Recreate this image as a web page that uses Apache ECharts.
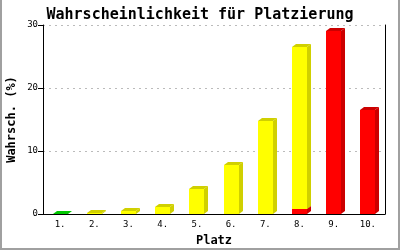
<!DOCTYPE html>
<html>
<head>
<meta charset="utf-8">
<script src="https://cdn.jsdelivr.net/npm/echarts@6/dist/echarts.min.js"></script>
<style>html,body{margin:0;padding:0;background:#fff}#c{width:400px;height:250px}</style>
</head>
<body>
<div id="c"></div>
<script>
var categories = ['1.', '2.', '3.', '4.', '5.', '6.', '7.', '8.', '9.', '10.'];
var greenValues  = [0.05, 0, 0, 0, 0, 0, 0, 0, 0, 0];
var redValues    = [0, 0, 0, 0, 0, 0, 0, 0.85, 0, 0];
var yellowValues = [0, 0.2, 0.5, 1.1, 4.0, 7.8, 14.8, 25.65, 0, 0];
var redTopValues = [0, 0, 0, 0, 0, 0, 0, 0, 29.1, 16.5];
var yTicks = [0, 10, 20, 30];

var FONT = '"DejaVu Sans Mono", monospace';
var seriesDefs = [
  {name: 'green', values: greenValues, front: '#00ee00', dark: '#00c800'},
  {name: 'red', values: redValues, front: '#ff0000', dark: '#cc0000'},
  {name: 'yellow', values: yellowValues, front: '#ffff00', dark: '#d0d000'},
  {name: 'red2', values: redTopValues, front: '#ff0000', dark: '#cc0000'}
];
var bases = categories.map(function(){return 0;});
var series = seriesDefs.map(function(def){
  var data = def.values.map(function(v, i){
    var b = bases[i];
    bases[i] += v;
    return [i, b, b + v, v];
  });
  return {
    type: 'custom',
    name: def.name,
    data: data,
    encode: {x: 0, y: 2},
    renderItem: function(params, api){
      var v = api.value(3);
      if (!v) return;
      var cat = api.value(0);
      var pb = api.coord([cat, api.value(1)]);
      var pt = api.coord([cat, api.value(2)]);
      var bw = Math.round(api.size([1, 0])[0] * 0.44);
      var l = Math.round(pb[0] - bw / 2);
      var r = l + bw;
      var yb = Math.round(pb[1]);
      var yt = Math.round(pt[1]);
      var dx = 4, dy = 3;
      return {
        type: 'group',
        children: [
          {type: 'polygon', shape: {points: [[r, yt], [r + dx, yt - dy], [r + dx, yb - dy], [r, yb]]}, style: {fill: def.dark}},
          {type: 'polygon', shape: {points: [[l, yt], [l + dx, yt - dy], [r + dx, yt - dy], [r, yt]]}, style: {fill: def.dark}},
          {type: 'rect', shape: {x: l, y: yt, width: bw, height: yb - yt}, style: {fill: def.front}}
        ]
      };
    }
  };
});

var chart = echarts.init(document.getElementById('c'), null, {renderer: 'canvas'});
chart.setOption({
  animation: false,
  backgroundColor: '#ffffff',
  title: {
    text: 'Wahrscheinlichkeit für Platzierung',
    left: 'center', top: 3,
    textStyle: {fontFamily: FONT, fontSize: 15, fontWeight: 'bold', color: '#000'}
  },
  grid: {left: 43, right: 15, top: 25, bottom: 36, containLabel: false, outerBoundsMode: 'none'},
  xAxis: {
    type: 'category',
    data: categories,
    boundaryGap: true,
    name: 'Platz',
    nameLocation: 'middle',
    nameGap: 21,
    nameMoveOverlap: false,
    nameTextStyle: {fontFamily: FONT, fontSize: 12, fontWeight: 'bold', color: '#000'},
    axisLine: {lineStyle: {color: '#000', width: 1}},
    axisTick: {show: false},
    axisLabel: {fontFamily: FONT, fontSize: 9, color: '#000', margin: 6},
    splitLine: {show: false}
  },
  yAxis: [{
    type: 'value',
    min: yTicks[0], max: yTicks[yTicks.length - 1], interval: 10,
    name: 'Wahrsch. (%)',
    nameLocation: 'middle',
    nameGap: 25,
    nameMoveOverlap: false,
    nameTextStyle: {fontFamily: FONT, fontSize: 12, fontWeight: 'bold', color: '#000'},
    axisLine: {show: true, lineStyle: {color: '#000', width: 1}},
    axisTick: {show: true, length: 5, lineStyle: {color: '#000'}},
    axisLabel: {fontFamily: FONT, fontSize: 9, color: '#000', margin: 5},
    splitLine: {show: true, lineStyle: {color: '#bbbbbb', type: [2, 4], width: 1}}
  }, {
    type: 'value',
    position: 'right',
    min: yTicks[0], max: yTicks[yTicks.length - 1], interval: 10,
    axisLine: {show: true, lineStyle: {color: '#000', width: 1}},
    axisTick: {show: false},
    axisLabel: {show: false},
    splitLine: {show: false}
  }],
  graphic: [
    {type: 'rect', shape: {x: 0, y: 0, width: 2, height: 250}, style: {fill: '#a0a0a0'}, silent: true},
    {type: 'rect', shape: {x: 398, y: 0, width: 2, height: 250}, style: {fill: '#a0a0a0'}, silent: true},
    {type: 'rect', shape: {x: 0, y: 248, width: 400, height: 2}, style: {fill: '#a0a0a0'}, silent: true}
  ],
  series: series
});
</script>
</body>
</html>
